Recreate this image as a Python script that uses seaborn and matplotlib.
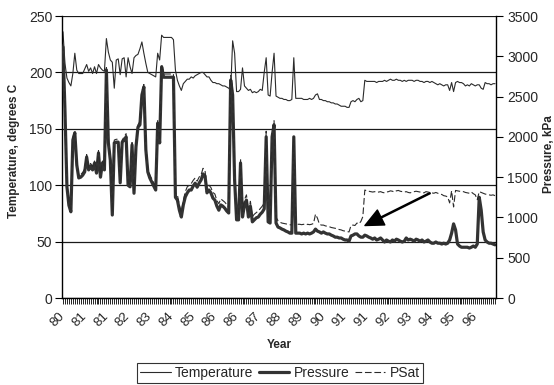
import numpy as np
import pandas as pd
import matplotlib
matplotlib.use("Agg")
import matplotlib.pyplot as plt
import seaborn as sns

# Well-head readings, one entry per sample (1980 - 1996)
temperature = [
    236, 208, 195, 191, 188, 199, 217, 202, 199, 199,
    199, 203, 207, 201, 204, 199, 205, 199, 207, 204,
    202, 201, 230, 218, 211, 209, 186, 211, 212, 198,
    212, 213, 196, 213, 205, 199, 213, 215, 216, 221,
    227, 217, 208, 200, 199, 198, 197, 196, 217, 211,
    233, 231, 231, 231, 231, 231, 229, 202, 193, 188,
    184, 190, 192, 194, 194, 196, 195, 197, 198, 199,
    200, 200, 198, 196, 196, 193, 191, 191, 190, 190,
    189, 188, 188, 187, 186, 184, 228, 217, 183, 183,
    185, 204, 188, 186, 184, 185, 182, 183, 182, 183,
    185, 184, 200, 213, 180, 179, 200, 217, 179, 178,
    177, 177, 176, 176, 175, 175, 176, 213, 177, 177,
    177, 177, 176, 176, 176, 177, 176, 177, 180, 181,
    176, 176, 175, 175, 174, 174, 173, 173, 172, 172,
    171, 170, 170, 170, 169, 169, 174, 175, 174, 176,
    177, 174, 175, 193, 192, 192, 192, 192, 192, 191,
    192, 192, 192, 193, 192, 193, 194, 193, 193, 194,
    193, 193, 192, 193, 192, 193, 193, 193, 192, 193,
    193, 192, 192, 191, 192, 192, 191, 192, 191, 190,
    189, 190, 189, 188, 189, 189, 184, 191, 183, 191,
    192, 191, 191, 190, 188, 189, 188, 190, 189, 188,
    189, 189, 186, 185, 191, 190, 190, 189, 190, 190,
]

pressure = [
    3115, 2330, 1380, 1150, 1070, 1960, 2050, 1650, 1490, 1500,
    1525, 1565, 1750, 1590, 1640, 1590, 1675, 1550, 1800, 1500,
    1675, 1590, 2830, 1925, 1710, 1030, 1925, 1935, 1935, 1430,
    1935, 1960, 2000, 1400, 1380, 1900, 1300, 1875, 2120, 2150,
    2520, 2620, 1840, 1565, 1490, 1440, 1390, 1340, 2170, 1925,
    2870, 2740, 2740, 2740, 2740, 2740, 2740, 1250, 1215, 1090,
    1005, 1155, 1255, 1305, 1340, 1340, 1390, 1425, 1375, 1425,
    1465, 1540, 1515, 1305, 1340, 1305, 1240, 1215, 1140, 1090,
    1155, 1140, 1115, 1080, 1055, 2705, 2520, 1465, 970, 970,
    1675, 1005, 1155, 1215, 1005, 1140, 945, 970, 995, 1005,
    1040, 1065, 1105, 2000, 945, 930, 2000, 2150, 930, 880,
    870, 855, 845, 830, 820, 805, 805, 2000, 805, 805,
    805, 795, 805, 795, 805, 795, 805, 820, 855, 830,
    820, 805, 820, 805, 795, 795, 780, 770, 755, 755,
    745, 745, 730, 720, 720, 705, 770, 780, 795, 795,
    770, 755, 755, 780, 770, 755, 745, 730, 745, 720,
    730, 745, 720, 695, 720, 705, 695, 720, 705, 730,
    720, 705, 695, 705, 745, 720, 730, 720, 705, 730,
    720, 705, 720, 695, 705, 720, 695, 680, 680, 695,
    680, 680, 670, 680, 670, 680, 720, 805, 920, 845,
    670, 645, 630, 630, 630, 630, 620, 630, 645, 630,
    670, 1250, 1090, 820, 720, 695, 680, 680, 670, 660,
]

psat = [
    3150, 2380, 1420, 1190, 1100, 1990, 2080, 1690, 1520, 1530,
    1560, 1600, 1780, 1620, 1670, 1630, 1700, 1580, 1830, 1540,
    1700, 1620, 2860, 1960, 1750, 1070, 1960, 1970, 1970, 1460,
    1960, 2000, 2040, 1430, 1410, 1930, 1330, 1910, 2150, 2190,
    2560, 2650, 1880, 1610, 1530, 1480, 1430, 1380, 2210, 1960,
    2900, 2780, 2780, 2780, 2780, 2780, 2780, 1300, 1280, 1150,
    1070, 1210, 1320, 1380, 1400, 1420, 1460, 1490, 1450, 1500,
    1530, 1610, 1580, 1370, 1400, 1370, 1310, 1290, 1210, 1170,
    1230, 1210, 1190, 1160, 1130, 2760, 2570, 1520, 1030, 1040,
    1730, 1070, 1220, 1280, 1070, 1200, 1010, 1040, 1060, 1080,
    1110, 1140, 1180, 2070, 1010, 1000, 2060, 2200, 1000, 960,
    940, 930, 925, 920, 915, 910, 905, 2000, 920, 915,
    915, 910, 915, 905, 915, 910, 915, 925, 1040, 990,
    915, 905, 905, 895, 890, 885, 875, 870, 865, 860,
    850, 845, 835, 830, 825, 820, 900, 905, 900, 930,
    920, 950, 1010, 1340, 1330, 1325, 1320, 1315, 1320, 1310,
    1315, 1320, 1310, 1305, 1315, 1320, 1330, 1325, 1315, 1330,
    1335, 1325, 1320, 1315, 1320, 1310, 1305, 1315, 1320, 1325,
    1320, 1315, 1310, 1305, 1320, 1315, 1310, 1305, 1300, 1310,
    1300, 1290, 1285, 1270, 1265, 1255, 1180, 1330, 1130, 1335,
    1330, 1325, 1320, 1320, 1310, 1305, 1300, 1315, 1295, 1280,
    1220, 1320, 1310, 1300, 1290, 1285, 1280, 1275, 1280, 1270,
]

year_labels = ['80', '81', '81', '82', '83', '84', '85', '86', '86', '87',
               '88', '89', '90', '91', '91', '92', '93', '94', '95', '96']
label_every = 11

sns.set_style("white")
plt.rcParams['font.family'] = ['Liberation Sans', 'DejaVu Sans']

n = len(temperature)
df = pd.DataFrame({
    'sample': np.arange(n),
    'Temperature': temperature,
    'Pressure': pressure,
    'PSat': psat,
})

fig = plt.figure(figsize=(5.54, 3.85), dpi=100)
ax = fig.add_axes([62 / 554, 1 - 298 / 385, 434 / 554, 282 / 385])
ax2 = ax.twinx()

line_col = '#2b2b2b'
sns.lineplot(data=df, x='sample', y='Temperature', ax=ax, color=line_col,
             linewidth=0.8, legend=False)
sns.lineplot(data=df, x='sample', y='Pressure', ax=ax2, color='#333333',
             linewidth=2.3, legend=False)
sns.lineplot(data=df, x='sample', y='PSat', ax=ax2, color=line_col,
             linewidth=0.8, linestyle=(0, (6, 2.5)), legend=False)

ax.set_xlim(-0.5, n - 0.5)
ax.set_ylim(0, 250)
ax2.set_ylim(0, 3500)

# Axes: ticks, labels, grid
major = np.arange(0, n, label_every)[:len(year_labels)]
ax.set_xticks(major)
ax.set_xticklabels(year_labels, fontsize=9.5)
ax.set_xticks(np.arange(n), minor=True)
for lbl in ax.get_xticklabels():
    lbl.set_rotation(45)
    lbl.set_ha('right')
    lbl.set_va('center')
    lbl.set_rotation_mode('anchor')
ax.tick_params(axis='x', which='both', direction='out', length=4, width=0.6,
               color='black', bottom=True, pad=8)

ax.set_yticks(np.arange(0, 251, 50))
ax.tick_params(axis='y', direction='out', length=5, width=0.8, color='black',
               labelsize=10, left=True, pad=2)
ax2.set_yticks(np.arange(0, 3501, 500))
ax2.tick_params(axis='y', direction='out', length=5, width=0.8, color='black',
                labelsize=10, right=True, pad=3)

ax.yaxis.grid(True, color='#1a1a1a', linewidth=0.9)
ax.xaxis.grid(False)
ax.set_axisbelow(True)

for side in ('top', 'right'):
    ax.spines[side].set_visible(False)
for side in ('left', 'bottom'):
    ax.spines[side].set_color('black')
    ax.spines[side].set_linewidth(1.0)
for side in ('top', 'left', 'bottom'):
    ax2.spines[side].set_visible(False)
ax2.spines['right'].set_color('black')
ax2.spines['right'].set_linewidth(1.0)

ax.set_xlabel('Year', fontsize=8.5, fontweight='bold', va='center')
ax.xaxis.set_label_coords(0.5, -0.167)
ax.set_ylabel('Temperature, degrees C', fontsize=8.5, fontweight='bold',
              va='center')
ax.yaxis.set_label_coords(-0.11, 0.52)
ax2.set_ylabel('Pressure, kPa', fontsize=8.5, fontweight='bold',
               rotation=90, va='center')
ax2.yaxis.set_label_coords(1.122, 0.51)

# Arrow pointing at the pressure step in 1991
ax.annotate('', xy=(0.698, 0.257), xytext=(0.848, 0.372),
            xycoords='axes fraction', textcoords='axes fraction',
            arrowprops=dict(facecolor='black', edgecolor='black',
                            width=0.8, headwidth=12, headlength=13,
                            shrink=0.0))

handles = [ax.lines[0], ax2.lines[0], ax2.lines[1]]
labels = ['Temperature', 'Pressure', 'PSat']
leg = fig.legend(handles, labels, loc='center',
                 bbox_to_anchor=(280 / 554, 1 - 373 / 385), ncol=3,
                 frameon=True, fancybox=False, shadow=False, fontsize=10,
                 handlelength=2.2, handletextpad=0.3, columnspacing=0.4,
                 borderpad=0.25, borderaxespad=0)
leg.get_frame().set_edgecolor('black')
leg.get_frame().set_linewidth(0.8)

fig.savefig('out.png', dpi=100)
